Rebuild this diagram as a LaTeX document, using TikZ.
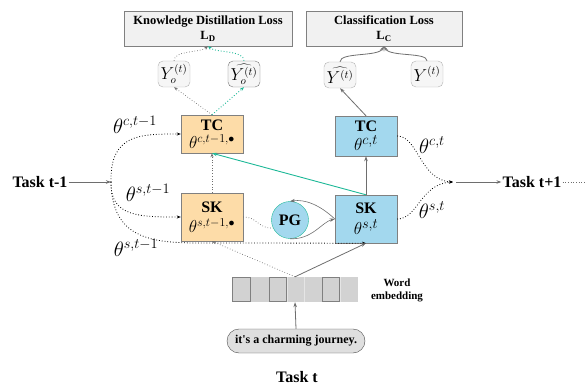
\documentclass[tikz,border=0pt]{standalone}
\usepackage{fontspec}
\setmainfont{Liberation Serif}
\usetikzlibrary{arrows.meta,shapes.misc}
\definecolor{orangefill}{HTML}{FDDCA8}
\definecolor{bluefill}{HTML}{A3D8EE}
\definecolor{tealc}{HTML}{1DB897}
\definecolor{lossfill}{HTML}{F1F1F1}
\definecolor{bordc}{HTML}{808080}
\definecolor{embfill}{HTML}{D2D2D2}
\definecolor{arrc}{HTML}{6E6E6E}
\begin{document}
\begin{tikzpicture}[x=1pt,y=-1pt,
  lossbox/.style={draw=bordc, fill=lossfill, minimum width=168pt, minimum height=35pt, align=center, inner sep=1pt, font=\bfseries\fontsize{12.5}{14}\selectfont},
  ynode/.style={draw=gray!60, fill=gray!7, rounded corners=5pt, minimum width=32pt, minimum height=26pt, inner sep=0pt, font=\fontsize{16}{16}\selectfont},
  obox/.style={draw=bordc, fill=orangefill, minimum width=62pt, align=center, inner sep=0pt},
  bbox/.style={draw=bordc, fill=bluefill, minimum width=62pt, align=center, inner sep=0pt},
  tasklbl/.style={font=\bfseries\fontsize{16}{18}\selectfont, inner sep=1pt},
  thlbl/.style={font=\fontsize{20}{22}\selectfont, inner sep=0pt},
  garr/.style={draw=arrc, line width=0.8pt, -{Stealth[length=5pt,width=3.5pt]}},
  gdot/.style={draw=arrc, dotted, line width=0.7pt, -{Stealth[length=4pt,width=3pt]}},
  kdot/.style={draw=black, dotted, line width=0.8pt, -{Stealth[length=4pt,width=3pt]}},
  tdot/.style={draw=tealc, dotted, line width=0.9pt, -{Stealth[length=4pt,width=3pt]}},
]
\useasboundingbox (0,0) rectangle (587,385);

% loss boxes
\node[lossbox] (kd) at (208,28.5) {Knowledge Distillation Loss\\[1pt] L\textsubscript{D}};
\node[lossbox, minimum width=156pt] (cl) at (384,28.5) {Classification Loss\\[1pt] L\textsubscript{C}};

% Y nodes
\node[ynode] (yo) at (174,74) {$Y_o^{(t)}$};
\node[ynode, draw=gray!90!black] (yoh) at (244,74) {$\widehat{Y_o^{(t)}}$};
\node[ynode] (yh) at (340,75) {$\widehat{Y^{(t)}}$};
\node[ynode] (yt) at (427,74) {$Y^{(t)}$};

% model boxes
\node[obox, minimum height=38pt] (otc) at (212,134) {{\bfseries\fontsize{16}{16}\selectfont TC}\\[3pt]{\fontsize{17}{17}\selectfont$\theta^{c,t-1,\bullet}$}};
\node[obox, minimum height=48pt] (osk) at (212,217) {{\bfseries\fontsize{16}{16}\selectfont SK}\\[5pt]{\fontsize{17}{17}\selectfont$\theta^{s,t-1,\bullet}$}};
\node[bbox, minimum height=40pt] (btc) at (366,136) {{\bfseries\fontsize{16}{16}\selectfont TC}\\[3pt]{\fontsize{19}{19}\selectfont$\theta^{c,t}$}};
\node[bbox, minimum height=48pt] (bsk) at (366,219) {{\bfseries\fontsize{16}{16}\selectfont SK}\\[5pt]{\fontsize{19}{19}\selectfont$\theta^{s,t}$}};
\node[circle, draw=tealc, fill=bluefill, minimum size=37pt, inner sep=0pt, font=\bfseries\fontsize{16}{16}\selectfont] (pg) at (290,220) {PG};

% task labels
\node[tasklbl] (tm1) at (40,182) {Task t-1};
\node[tasklbl] (tp1) at (532,182) {Task t+1};
\node[tasklbl] (tt) at (297,377) {Task t};
\coordinate (split) at (111,182);
\coordinate (merge) at (453,182);
\coordinate (rend) at (587,182);

% theta labels
\node[thlbl] (l1) at (135,125) {$\theta^{c,t-1}$};
\node[thlbl] (l2) at (148,193) {$\theta^{s,t-1}$};
\node[thlbl] (l3) at (136,248) {$\theta^{s,t-1}$};
\node[thlbl] (l4) at (432,145) {$\theta^{c,t}$};
\node[thlbl] (l5) at (432,210) {$\theta^{s,t}$};

% word embedding
\node[fill=embfill, minimum width=126pt, minimum height=25pt, inner sep=0pt] (emb) at (295,289.5) {};
\foreach \xa in {250,269,287,304,322,340}
  \draw[white!80!gray, line width=0.6pt] (\xa,277) -- (\xa,302);
\draw[bordc, line width=0.7pt] (232.5,277.5) rectangle (250,301.5);
\draw[bordc, line width=0.7pt] (269,277.5) rectangle (286.5,301.5);
\draw[bordc, line width=0.7pt] (322,277.5) rectangle (339.5,301.5);
\node[font=\bfseries\fontsize{11}{13}\selectfont, align=center, inner sep=0pt] (wl) at (397,290) {Word\\embedding};

% sentence
\node[rounded rectangle, draw=gray!60!black, fill=gray!25, minimum width=140pt, minimum height=24pt, inner sep=1pt, font=\bfseries\fontsize{12}{12}\selectfont] (sent) at (296,341) {it\textquotesingle s a charming journey.};

% connectors left
\draw[garr] (tm1.east) -- (split);
\draw[kdot] (split) .. controls (110,134) and (140,134) .. (otc.west);
\draw[kdot] (split) .. controls (110,217) and (140,217) .. (osk.west);
\draw[kdot] (split) .. controls (112,238) and (150,243) .. (200,243) -- (bsk.south);

% internal
\draw[gdot] (osk.north) -- (otc.south);
\draw[draw=tealc, line width=0.9pt, -{Stealth[length=5pt,width=3.5pt]}] (bsk.north) -- (otc.south);
\draw[garr] (bsk.north) -- (btc.south);
\draw[gdot] (otc.north) -- (yo.south);
\draw[tdot] (otc.north) -- (yoh.south);
\draw[gdot] (yo.north) .. controls (174,50) and (200,53) .. (kd.south);
\draw[tdot] (yoh.north) .. controls (244,50) and (216,53) .. (kd.south);
\draw[garr] (yh.north) .. controls (340,52) and (378,57) .. (cl.south);
\draw[garr] (yt.north) .. controls (427,52) and (390,57) .. (cl.south);
\draw[garr] (btc.north) -- (yh.south);

% PG
\draw[gdot, -] (osk.east) .. controls (258,217) and (258,229) .. (pg.205);
\draw[garr, line width=0.6pt] (bsk.west) .. controls (320,205) and (305,199) .. (pg.north);
\draw[garr, line width=0.6pt] (pg.south) .. controls (312,240) and (322,222) .. (bsk.west);

% right
\draw[kdot] (btc.east) .. controls (418,136) and (420,180) .. (merge);
\draw[kdot] (bsk.east) .. controls (418,219) and (420,184) .. (merge);
\draw[garr] ([xshift=3pt]merge) -- (tp1.west);
\draw[draw=arrc, dotted, line width=0.7pt] (tp1.east) -- (rend);

% embedding
\draw[garr] (sent.north) -- (emb.south);
\draw[garr] (emb.north) -- (bsk.south);
\draw[gdot] (emb.north) -- (osk.south);
\end{tikzpicture}
\end{document}
